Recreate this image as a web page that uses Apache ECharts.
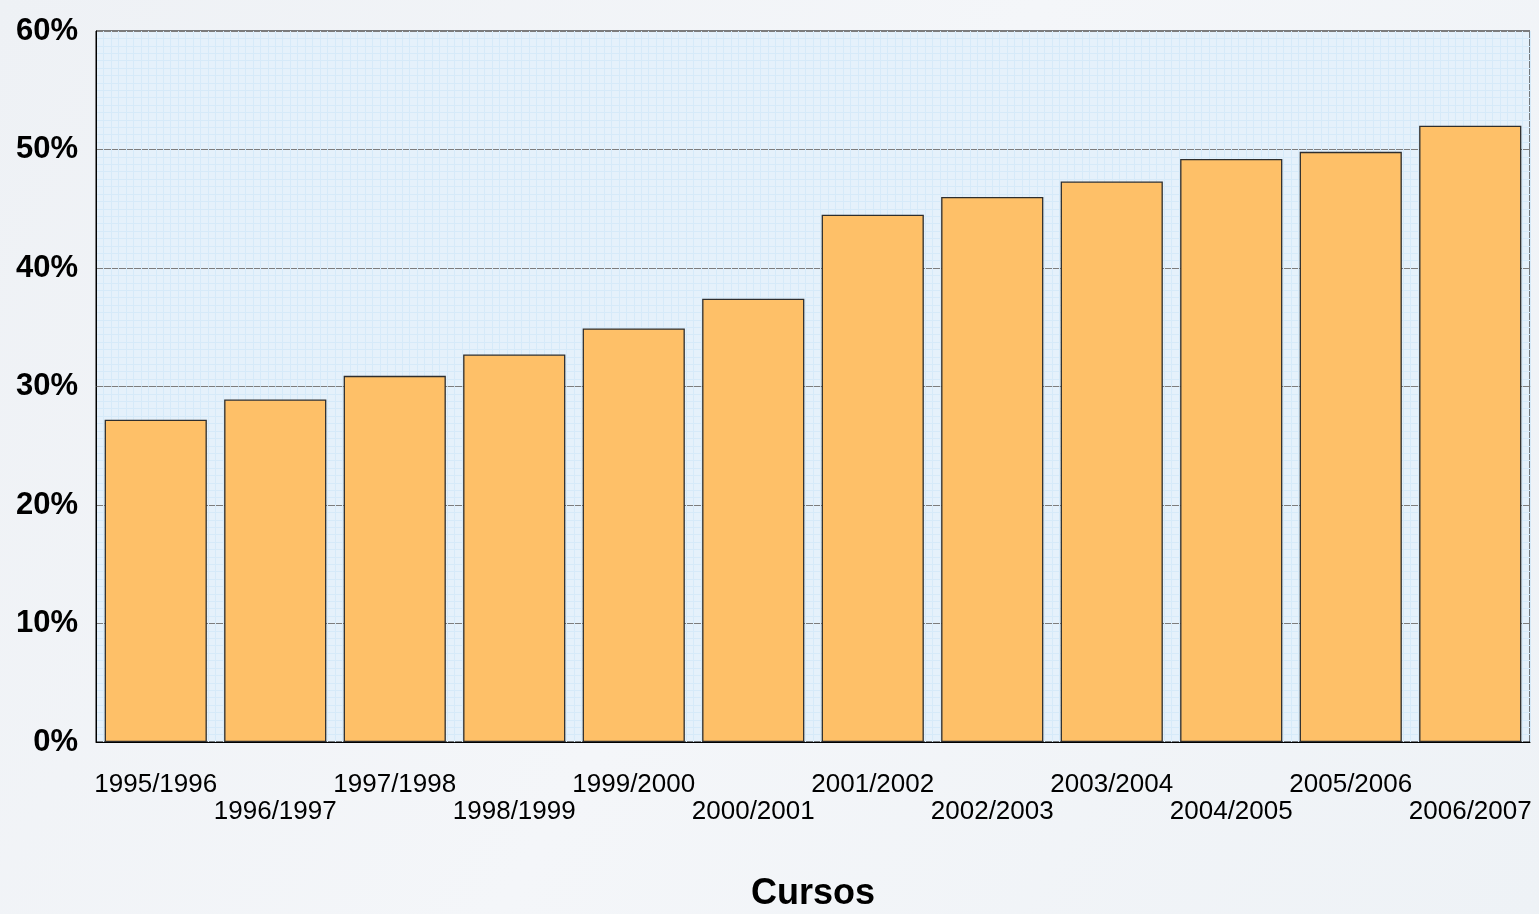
<!DOCTYPE html>
<html>
<head>
<meta charset="utf-8">
<style>
  html, body { margin: 0; padding: 0; }
  #chart { width: 1539px; height: 914px; }
</style>
<script src="https://cdn.jsdelivr.net/npm/echarts@6/dist/echarts.min.js"></script>
</head>
<body>
<div id="chart"></div>
<script>
// Academic years (cursos)
const cursos = ['1995/1996', '1996/1997', '1997/1998', '1998/1999', '1999/2000', '2000/2001',
                '2001/2002', '2002/2003', '2003/2004', '2004/2005', '2005/2006', '2006/2007'];
// Percentage for each year
const valores = [27.2, 28.9, 30.9, 32.7, 34.9, 37.4, 44.5, 46.0, 47.3, 49.2, 49.8, 52.0];
// Value axis range and step (percent)
const yMin = 0, yMax = 60, yStep = 10;

const chart = echarts.init(document.getElementById('chart'), null, { renderer: 'canvas' });

const fine = '#d6eaf9';

chart.setOption({
  backgroundColor: {
    type: 'linear', x: 0, y: 0, x2: 1, y2: 1,
    colorStops: [
      { offset: 0, color: '#eef1f5' },
      { offset: 0.5, color: '#f4f6f9' },
      { offset: 1, color: '#eef2f6' }
    ]
  },
  animation: false,
  grid: {
    left: 96, right: 9, top: 31, bottom: 172,
    outerBoundsMode: 'none',
    containLabel: false,
    show: true,
    backgroundColor: '#e5f1fb',
    borderColor: '#000',
    borderWidth: 1
  },
  xAxis: [
    {
      type: 'category',
      data: cursos,
      axisLine: { show: true, lineStyle: { color: '#000', width: 1 } },
      axisTick: { show: false },
      axisLabel: {
        interval: 0,
        margin: 29,
        fontFamily: 'Liberation Sans, Arial, sans-serif',
        fontSize: 26,
        lineHeight: 27,
        color: '#000',
        formatter: (v, i) => (i % 2 === 1 ? '\n' + v : v)
      },
      name: 'Cursos',
      nameLocation: 'middle',
      nameGap: 134,
      nameTextStyle: {
        fontFamily: 'Liberation Sans, Arial, sans-serif',
        fontSize: 36,
        fontWeight: 'bold',
        color: '#000'
      },
      z: 3
    },
    {
      // fine vertical graph-paper lines inside the plot
      type: 'value',
      min: 0, max: 192, interval: 1,
      position: 'top',
      axisLine: { show: false },
      axisTick: { show: false },
      axisLabel: { show: false },
      splitLine: { show: true, lineStyle: { color: fine, width: 1 } },
      z: 0
    }
  ],
  yAxis: {
    type: 'value',
    min: yMin, max: yMax, interval: yStep,
    axisLine: { show: true, lineStyle: { color: '#000', width: 1 } },
    axisTick: { show: false },
    axisLabel: {
      margin: 18,
      fontFamily: 'Liberation Sans, Arial, sans-serif',
      fontSize: 31,
      fontWeight: 'bold',
      color: '#000',
      formatter: v => v + '%'
    },
    splitLine: { show: true, lineStyle: { color: '#7d7d7d', width: 1 } },
    minorTick: { show: false, splitNumber: 16 },
    minorSplitLine: { show: true, lineStyle: { color: fine, width: 1 } }
  },
  series: [
    {
      type: 'bar',
      data: valores,
      xAxisIndex: 0,
      barCategoryGap: '14.5%',
      itemStyle: {
        color: '#fec068',
        borderColor: '#2e2e2e',
        borderWidth: 1.3
      },
      z: 4
    }
  ]
});
</script>
</body>
</html>
